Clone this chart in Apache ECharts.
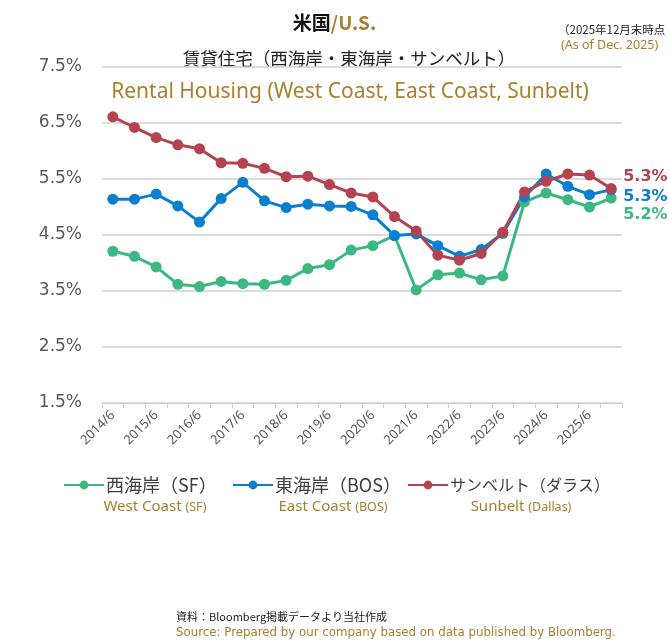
<!DOCTYPE html>
<html>
<head>
<meta charset="utf-8">
<title>米国 賃貸住宅</title>
<script src="https://cdn.jsdelivr.net/npm/echarts@6/dist/echarts.min.js"></script>
<style>
  html, body { margin: 0; padding: 0; background: #fff; }
  #chart { width: 669px; height: 640px; }
</style>
</head>
<body>
<div id="chart"></div>
<script>
// 半期ごとの利回り（%）
const periods = [
  '2014/6', '2014/12', '2015/6', '2015/12', '2016/6', '2016/12',
  '2017/6', '2017/12', '2018/6', '2018/12', '2019/6', '2019/12',
  '2020/6', '2020/12', '2021/6', '2021/12', '2022/6', '2022/12',
  '2023/6', '2023/12', '2024/6', '2024/12', '2025/6', '2025/12'
];
const westCoast = [
  4.21, 4.12, 3.93, 3.62, 3.58, 3.67, 3.63, 3.62, 3.69, 3.90, 3.97, 4.23,
  4.31, 4.49, 3.52, 3.79, 3.82, 3.70, 3.77, 5.09, 5.25, 5.13, 5.00, 5.16
];
const eastCoast = [
  5.14, 5.14, 5.23, 5.02, 4.73, 5.15, 5.44, 5.11, 4.99, 5.05, 5.02, 5.01,
  4.86, 4.49, 4.52, 4.31, 4.12, 4.24, 4.53, 5.18, 5.59, 5.37, 5.22, 5.31
];
const sunbelt = [
  6.61, 6.42, 6.24, 6.11, 6.04, 5.79, 5.78, 5.69, 5.54, 5.55, 5.40, 5.25,
  5.18, 4.83, 4.57, 4.14, 4.05, 4.17, 4.55, 5.27, 5.46, 5.59, 5.57, 5.33
];
const yTicks = { min: 1.5, max: 7.5, step: 1 };

const GREEN = '#3cb882';
const BLUE = '#0a7fd0';
const RED = '#b5424f';
const GOLD = '#a8802e';
const GREY = '#595959';
const FONT = '"Noto Sans CJK JP", "Noto Sans", sans-serif';
const LATIN = '"Noto Sans", "Noto Sans CJK JP", sans-serif';

const chart = echarts.init(document.getElementById('chart'));

function makeSeries(name, data, color, offsetY) {
  return {
    name: name,
    type: 'line',
    data: data,
    symbol: 'circle',
    symbolSize: 11,
    color: color,
    lineStyle: { width: 3, color: color },
    itemStyle: { color: color },
    z: 2,
    endLabel: {
      show: true,
      distance: 12,
      offset: [0, offsetY],
      formatter: p => p.value.toFixed(1) + '%',
      color: color,
      fontSize: 16,
      fontWeight: 'bold',
      fontFamily: '"DejaVu Sans", sans-serif'
    }
  };
}

function legendAt(left, top, name, size) {
  return {
    left: left,
    top: top,
    data: [name],
    itemWidth: 40,
    itemHeight: 11,
    itemGap: 0,
    textStyle: { fontSize: size, color: '#404040', fontFamily: FONT, padding: [0, 0, 0, -3] }
  };
}

// 凡例下の英語表記
function subLabel(x, main, small) {
  return {
    type: 'text', x: x, y: 507,
    style: {
      text: '{m|' + main + ' }{s|' + small + '}', align: 'center', verticalAlign: 'middle',
      rich: {
        m: { fontSize: 15, fill: GOLD, fontFamily: LATIN },
        s: { fontSize: 12.5, fill: GOLD, fontFamily: LATIN }
      }
    }
  };
}

const option = {
  animation: false,
  backgroundColor: '#fff',
  textStyle: { fontFamily: FONT },
  title: {
    text: '{a|米国}{b|/U.S.}',
    left: 'center',
    top: 8,
    textStyle: {
      rich: {
        a: { fontSize: 19, fontWeight: 'bold', color: '#111', fontFamily: FONT },
        b: { fontSize: 19, fontWeight: 'bold', color: GOLD, fontFamily: FONT }
      }
    }
  },
  legend: [
    legendAt(58, 471, '西海岸（SF）', 18),
    legendAt(227, 471, '東海岸（BOS）', 18),
    legendAt(402, 472, 'サンベルト（ダラス）', 16)
  ],
  grid: { left: 102, right: 47, top: 67, height: 336 },
  xAxis: {
    type: 'category',
    data: periods,
    boundaryGap: true,
    axisLine: { lineStyle: { color: '#d0d0d0' } },
    axisTick: { show: true, interval: 0, length: 5, lineStyle: { color: '#d0d0d0' } },
    axisLabel: {
      interval: 1,
      rotate: 45,
      fontSize: 13,
      color: GREY,
      margin: 10,
      fontFamily: LATIN
    },
    splitLine: { show: false }
  },
  yAxis: {
    type: 'value',
    min: yTicks.min,
    max: yTicks.max,
    interval: yTicks.step,
    axisLine: { show: false },
    axisTick: { show: false },
    axisLabel: {
      formatter: v => v.toFixed(1) + '%',
      fontSize: 17,
      color: GREY,
      margin: 20,
      fontFamily: '"DejaVu Sans", sans-serif'
    },
    splitLine: { lineStyle: { color: '#d0d0d0', width: 1.5 } }
  },
  series: [
    makeSeries('西海岸（SF）', westCoast, GREEN, 17),
    makeSeries('東海岸（BOS）', eastCoast, BLUE, 7),
    makeSeries('サンベルト（ダラス）', sunbelt, RED, -12)
  ],
  graphic: [
    {
      type: 'text', x: 349, y: 58,
      style: {
        text: '賃貸住宅（西海岸・東海岸・サンベルト）',
        font: '17.5px ' + FONT, fill: '#222', align: 'center', verticalAlign: 'middle'
      }
    },
    {
      type: 'text', x: 350, y: 92,
      style: {
        text: 'Rental Housing (West Coast, East Coast, Sunbelt)',
        font: '21px ' + LATIN, fill: GOLD, align: 'center', verticalAlign: 'middle'
      }
    },
    {
      type: 'text', x: 558, y: 24,
      style: { text: '（2025年12月末時点', font: '11.5px ' + FONT, fill: '#222' }
    },
    {
      type: 'text', x: 561, y: 39,
      style: { text: '(As of Dec. 2025)', font: '12.5px ' + LATIN, fill: GOLD }
    },
    subLabel(155, 'West Coast', '(SF)'),
    subLabel(333, 'East Coast', '(BOS)'),
    subLabel(521, 'Sunbelt', '(Dallas)'),
    {
      type: 'text', x: 176, y: 611,
      style: { text: '資料：Bloomberg掲載データより当社作成', font: '11px ' + FONT, fill: '#222' }
    },
    {
      type: 'text', x: 176, y: 627,
      style: {
        text: 'Source: Prepared by our company based on data published by Bloomberg.',
        font: '11.8px "DejaVu Sans", sans-serif', fill: GOLD
      }
    }
  ]
};

chart.setOption(option);
</script>
</body>
</html>
